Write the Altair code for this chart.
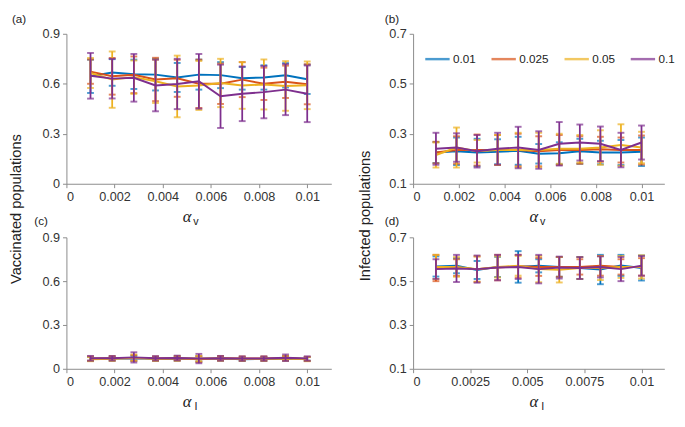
import altair as alt
import pandas as pd

# ---------------- data ----------------
X = [0.001, 0.0019, 0.0028, 0.0037, 0.0046, 0.0055, 0.0064, 0.0073, 0.0082, 0.0091, 0.01]
SERIES = ["0.01", "0.025", "0.05", "0.1"]
COLORS = ["#0072BD", "#D95319", "#EDB120", "#7E2F8E"]

# (a) vaccinated vs alpha_V
a_mean = {
    "0.01":  [0.645, 0.668, 0.657, 0.655, 0.638, 0.655, 0.652, 0.633, 0.638, 0.651, 0.627],
    "0.025": [0.673, 0.645, 0.654, 0.626, 0.633, 0.600, 0.600, 0.625, 0.600, 0.612, 0.597],
    "0.05":  [0.665, 0.625, 0.640, 0.615, 0.584, 0.590, 0.605, 0.590, 0.596, 0.587, 0.591],
    "0.1":   [0.648, 0.631, 0.636, 0.590, 0.599, 0.615, 0.525, 0.540, 0.550, 0.565, 0.540],
}
a_std = {
    "0.01":  [0.100, 0.080, 0.088, 0.095, 0.087, 0.090, 0.078, 0.068, 0.073, 0.073, 0.088],
    "0.025": [0.073, 0.110, 0.110, 0.130, 0.111, 0.145, 0.121, 0.105, 0.097, 0.097, 0.120],
    "0.05":  [0.090, 0.169, 0.100, 0.130, 0.185, 0.147, 0.145, 0.140, 0.150, 0.149, 0.143],
    "0.1":   [0.137, 0.119, 0.143, 0.155, 0.151, 0.164, 0.190, 0.164, 0.157, 0.153, 0.170],
}
# (b) infected vs alpha_V
b_mean = {
    "0.01":  [0.225, 0.230, 0.225, 0.228, 0.232, 0.220, 0.222, 0.230, 0.225, 0.225, 0.228],
    "0.025": [0.225, 0.235, 0.235, 0.235, 0.235, 0.230, 0.235, 0.235, 0.238, 0.235, 0.235],
    "0.05":  [0.215, 0.245, 0.230, 0.235, 0.235, 0.235, 0.240, 0.240, 0.245, 0.255, 0.245],
    "0.1":   [0.240, 0.245, 0.230, 0.240, 0.245, 0.235, 0.260, 0.265, 0.260, 0.235, 0.265],
}
b_std = {
    "0.01":  [0.042, 0.055, 0.055, 0.050, 0.056, 0.039, 0.044, 0.050, 0.047, 0.050, 0.057],
    "0.025": [0.043, 0.055, 0.062, 0.060, 0.065, 0.060, 0.060, 0.055, 0.050, 0.050, 0.058],
    "0.05":  [0.050, 0.080, 0.045, 0.060, 0.069, 0.069, 0.060, 0.055, 0.069, 0.083, 0.063],
    "0.1":   [0.064, 0.057, 0.065, 0.064, 0.083, 0.075, 0.087, 0.072, 0.069, 0.069, 0.068],
}
# (c) vaccinated vs alpha_I
c_mean = {
    "0.01":  [0.068, 0.070, 0.072, 0.068, 0.070, 0.068, 0.070, 0.066, 0.068, 0.070, 0.068],
    "0.025": [0.070, 0.072, 0.074, 0.070, 0.072, 0.066, 0.072, 0.070, 0.070, 0.072, 0.068],
    "0.05":  [0.066, 0.068, 0.076, 0.068, 0.070, 0.070, 0.070, 0.068, 0.068, 0.072, 0.066],
    "0.1":   [0.072, 0.072, 0.078, 0.072, 0.074, 0.070, 0.072, 0.070, 0.070, 0.076, 0.070],
}
c_std = {
    "0.01":  [0.014, 0.014, 0.016, 0.013, 0.014, 0.018, 0.014, 0.013, 0.013, 0.014, 0.013],
    "0.025": [0.015, 0.015, 0.020, 0.014, 0.015, 0.020, 0.015, 0.014, 0.014, 0.016, 0.014],
    "0.05":  [0.014, 0.014, 0.022, 0.014, 0.015, 0.018, 0.015, 0.014, 0.014, 0.015, 0.014],
    "0.1":   [0.016, 0.015, 0.035, 0.015, 0.016, 0.032, 0.016, 0.015, 0.015, 0.022, 0.015],
}
# (d) infected vs alpha_I
d_mean = {
    "0.01":  [0.567, 0.570, 0.551, 0.565, 0.565, 0.570, 0.565, 0.560, 0.553, 0.572, 0.560],
    "0.025": [0.560, 0.562, 0.555, 0.562, 0.568, 0.565, 0.565, 0.565, 0.570, 0.565, 0.565],
    "0.05":  [0.565, 0.565, 0.555, 0.565, 0.570, 0.555, 0.552, 0.560, 0.560, 0.565, 0.565],
    "0.1":   [0.555, 0.558, 0.555, 0.562, 0.565, 0.555, 0.562, 0.560, 0.565, 0.555, 0.570],
}
d_std = {
    "0.01":  [0.046, 0.034, 0.041, 0.046, 0.072, 0.030, 0.045, 0.050, 0.067, 0.048, 0.057],
    "0.025": [0.060, 0.038, 0.058, 0.058, 0.052, 0.041, 0.045, 0.035, 0.045, 0.035, 0.040],
    "0.05":  [0.055, 0.045, 0.058, 0.048, 0.045, 0.060, 0.058, 0.050, 0.055, 0.050, 0.053],
    "0.1":   [0.045, 0.062, 0.062, 0.058, 0.055, 0.065, 0.050, 0.050, 0.048, 0.055, 0.045],
}

XTICKS_V = [0, 0.002, 0.004, 0.006, 0.008, 0.01]
XTICKS_I4 = [0, 0.0025, 0.005, 0.0075, 0.01]

SANS = "Liberation Sans"
SERIF = "Liberation Serif"
TXT = "#222222"


def long_df(means, stds):
    rows = []
    for s in SERIES:
        for xv, m, sd in zip(X, means[s], stds[s]):
            rows.append({"x": xv, "series": s, "mean": m, "lo": m - sd, "hi": m + sd})
    return pd.DataFrame(rows)


def txt(text, x, y, size, font=SANS, style="normal", angle=0, align="center",
        baseline="middle", color=TXT):
    return alt.Chart(alt.Data(values=[{}])).mark_text(
        text=text, fontSize=size, font=font, fontStyle=style, angle=angle,
        align=align, baseline=baseline, color=color
    ).encode(x=alt.value(x), y=alt.value(y))


def panel(means, stds, ydom, yticks, xticks, w, h, label, lab_x, lab_y, sub,
          legend=None, extra=None):
    df = long_df(means, stds)
    xenc = alt.X("x:Q", scale=alt.Scale(domain=[0, 0.011], nice=False),
                 axis=alt.Axis(values=xticks, labelExpr="toString(datum.value)", title=None))
    yscale = alt.Scale(domain=ydom, nice=False, zero=False)
    yaxis = alt.Axis(values=yticks, labelExpr="toString(datum.value)", title=None)
    color = alt.Color("series:N", scale=alt.Scale(domain=SERIES, range=COLORS),
                      legend=legend)
    layers = []
    for s in SERIES:
        sub_df = df[df.series == s]
        base = alt.Chart(sub_df)
        layers.append(base.mark_rule(strokeWidth=1.8).encode(
            x=xenc, y=alt.Y("lo:Q", scale=yscale, axis=yaxis), y2="hi:Q", color=color))
        layers.append(base.mark_tick(orient="horizontal", size=7, thickness=2).encode(
            x=xenc, y=alt.Y("lo:Q", scale=yscale, axis=yaxis), color=color))
        layers.append(base.mark_tick(orient="horizontal", size=7, thickness=2).encode(
            x=xenc, y=alt.Y("hi:Q", scale=yscale, axis=yaxis), color=color))
        layers.append(base.mark_line(strokeWidth=2).encode(
            x=xenc, y=alt.Y("mean:Q", scale=yscale, axis=yaxis), color=color))
    layers.append(txt(label, lab_x, lab_y, 12, align="left", baseline="middle"))
    layers.append(txt("α", 124, h + 34, 17, font=SERIF, style="italic"))
    layers.append(txt(sub, 133, h + 39, 11))
    if extra is not None:
        layers.extend(extra)
    return alt.layer(*layers).properties(width=w, height=h)


legend_b = alt.Legend(orient="none", legendX=11, legendY=12, direction="horizontal",
                      title=None, symbolType="stroke", symbolSize=625,
                      symbolStrokeWidth=2.5, labelFontSize=12, labelFont=SANS,
                      labelColor=TXT, labelOffset=2, columnPadding=10)

W1, W2 = 272, 258
H1, H2 = 154, 135

pa = panel(a_mean, a_std, [0, 0.9], [0, 0.3, 0.6, 0.9], XTICKS_V, W1, H1,
           "(a)", -56, -15, "v")
pb = panel(b_mean, b_std, [0.1, 0.7], [0.1, 0.3, 0.5, 0.7], XTICKS_V, W2, H1,
           "(b)", -29, -15, "v", legend=legend_b)
pc = panel(c_mean, c_std, [0, 0.9], [0, 0.3, 0.6, 0.9], XTICKS_V, W1, H2,
           "(c)", -33, -17, "I",
           extra=[txt("Vaccinated populations", -52, -29, 15, angle=270)])
pd_ = panel(d_mean, d_std, [0.1, 0.7], [0.1, 0.3, 0.5, 0.7], XTICKS_I4, W2, H2,
            "(d)", -29, -17, "I",
            extra=[txt("Infected populations", -49, -22, 15, angle=270)])

chart = alt.concat(
    pa, pb, pc, pd_, columns=2,
    spacing={"row": 55, "column": 84}, bounds="flush"
).resolve_scale(color="independent").resolve_legend(color="independent").properties(
    padding={"left": 0, "top": 0, "right": 2, "bottom": 0}
).configure_view(stroke=None).configure_axis(
    grid=False, domainColor="#8a8a8a", tickColor="#8a8a8a", labelColor="#333333",
    labelFont=SANS, labelFontSize=13, tickSize=4, labelPadding=3, domainWidth=1
)

chart.save("out.html", embed_options={"renderer": "svg", "actions": False})
